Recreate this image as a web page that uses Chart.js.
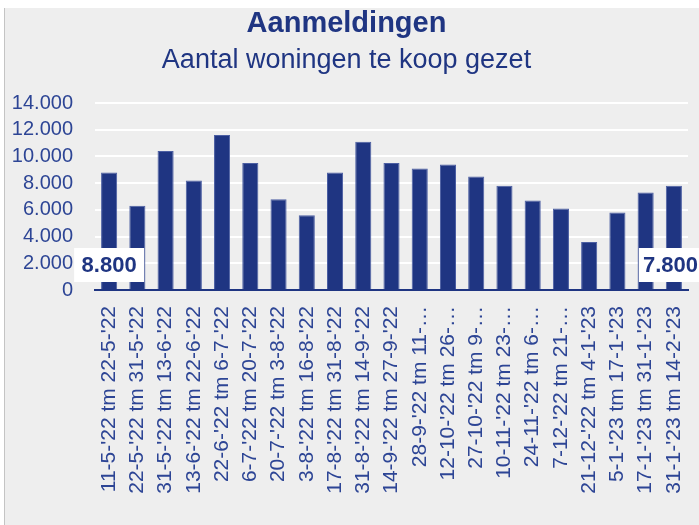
<!DOCTYPE html>
<html>
<head>
<meta charset="utf-8">
<script src="https://cdn.jsdelivr.net/npm/chart.js@4"></script>
<style>
    body { margin: 0; background: #ffffff; }
    #wrap {
        position: absolute; left: 4px; top: 8px;
        width: 694px; height: 517px;
        background: #eeeeee;
        border-left: 1px solid #c4c4c4;
    }
</style>
</head>
<body>
<div id="wrap"><canvas id="aanmeldChart" width="694" height="517"></canvas></div>
<script>
// Chart data
const periods = [
    "11-5-'22 tm 22-5-'22", "22-5-'22 tm 31-5-'22", "31-5-'22 tm 13-6-'22",
    "13-6-'22 tm 22-6-'22", "22-6-'22 tm 6-7-'22", "6-7-'22 tm 20-7-'22",
    "20-7-'22 tm 3-8-'22", "3-8-'22 tm 16-8-'22", "17-8-'22 tm 31-8-'22",
    "31-8-'22 tm 14-9-'22", "14-9-'22 tm 27-9-'22", "28-9-'22 tm 11-…",
    "12-10-'22 tm 26-…", "27-10-'22 tm 9-…", "10-11-'22 tm 23-…",
    "24-11-'22 tm 6-…", "7-12-'22 tm 21-…", "21-12-'22 tm 4-1-'23",
    "5-1-'23 tm 17-1-'23", "17-1-'23 tm 31-1-'23", "31-1-'23 tm 14-2-'23"
];
const aanmeldingen = [8800, 6300, 10400, 8200, 11600, 9500, 6800, 5600, 8800, 11100, 9500,
    9100, 9400, 8500, 7800, 6700, 6100, 3600, 5800, 7300, 7800];
const labelledBars = [0, 20]; // first and last bar get a value box
const yTicks = [0, 2000, 4000, 6000, 8000, 10000, 12000, 14000];

const navy = '#1f3582';
const tickColor = '#2d4595';
const fontFamily = '"Liberation Sans", Arial, sans-serif';

// Dutch thousands separator
function formatNumber(v) {
    return String(v).replace(/\B(?=(\d{3})+(?!\d))/g, '.');
}

// White boxes with the value, near the base of the bar
const valueBoxes = {
    id: 'valueBoxes',
    afterDatasetsDraw(chart) {
        const ctx = chart.ctx;
        const meta = chart.getDatasetMeta(0);
        const y0 = chart.scales.y.getPixelForValue(0);
        ctx.save();
        ctx.font = 'bold 22px ' + fontFamily;
        labelledBars.forEach(i => {
            const bar = meta.data[i];
            const text = formatNumber(aanmeldingen[i]);
            const tw = ctx.measureText(text).width;
            ctx.fillStyle = '#ffffff';
            ctx.fillRect(bar.x - 35, y0 - 42, 70, 34);
            const tx = Math.min(bar.x, chart.width - tw / 2 - 1);
            ctx.fillStyle = navy;
            ctx.textAlign = 'center';
            ctx.textBaseline = 'middle';
            ctx.fillText(text, tx, y0 - 24);
        });
        ctx.restore();
    }
};

let aanmeldChart;

document.addEventListener('DOMContentLoaded', function() {
    renderChart();
});

function renderChart() {
    const ctx = document.getElementById('aanmeldChart').getContext('2d');
    aanmeldChart = new Chart(ctx, {
        type: 'bar',
        data: {
            labels: periods,
            datasets: [{
                data: aanmeldingen,
                backgroundColor: navy,
                borderColor: '#4c5fa3',
                borderWidth: 1,
                categoryPercentage: 1,
                barPercentage: 0.57
            }]
        },
        options: {
            responsive: false,
            animation: false,
            layout: { padding: { left: 0, right: 11, top: 0, bottom: 0 } },
            plugins: {
                legend: { display: false },
                tooltip: { enabled: false },
                title: {
                    display: true,
                    text: 'Aanmeldingen',
                    color: navy,
                    font: { family: fontFamily, size: 29, weight: 'bold', lineHeight: 1 },
                    padding: { top: 1, bottom: 4 }
                },
                subtitle: {
                    display: true,
                    text: 'Aantal woningen te koop gezet',
                    color: navy,
                    font: { family: fontFamily, size: 27, lineHeight: 1 },
                    padding: { top: 5, bottom: 29 }
                }
            },
            scales: {
                x: {
                    grid: { display: false },
                    border: { color: navy, width: 2 },
                    ticks: {
                        color: tickColor,
                        font: { family: fontFamily, size: 21 },
                        maxRotation: 90,
                        minRotation: 90,
                        autoSkip: false,
                        padding: 8
                    },
                    afterFit: function(scale) {
                        scale.height = 235;
                        // let the plot run to the layout padding on the right
                        scale.paddingLeft = 0;
                        scale.paddingRight = 0;
                    }
                },
                y: {
                    min: 0,
                    max: 14000,
                    afterBuildTicks: function(scale) {
                        scale.ticks = yTicks.map(v => ({ value: v }));
                    },
                    grid: { color: '#ffffff', lineWidth: 2, drawTicks: false },
                    border: { display: false },
                    ticks: {
                        color: tickColor,
                        font: { family: fontFamily, size: 20 },
                        padding: 22,
                        autoSkip: false,
                        callback: function(value) { return formatNumber(value); }
                    },
                    afterFit: function(scale) { scale.width = 90; }
                }
            }
        },
        plugins: [valueBoxes]
    });
}
</script>
</body>
</html>
